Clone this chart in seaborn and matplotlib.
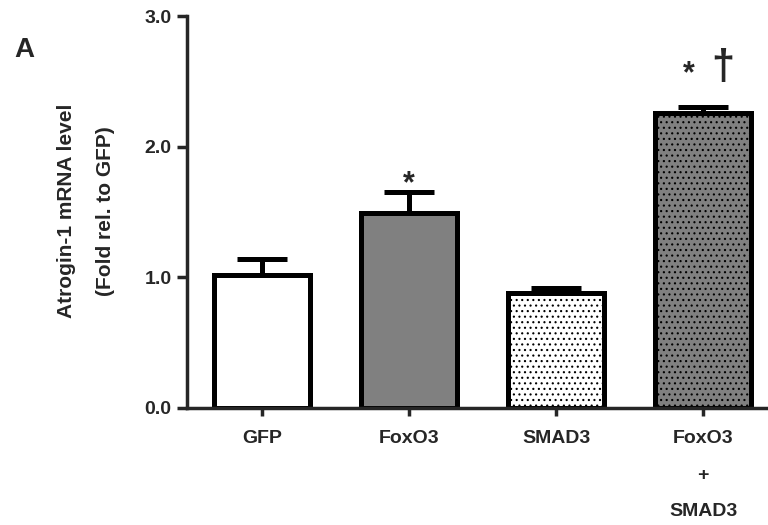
import matplotlib
matplotlib.use("Agg")
import matplotlib.pyplot as plt
import seaborn as sns
import pandas as pd

categories = ["GFP", "FoxO3", "SMAD3", "FoxO3\n+\nSMAD3"]
means = [1.02, 1.49, 0.88, 2.26]
sem = [0.12, 0.16, 0.04, 0.04]
fills = ["#ffffff", "#808080", "#ffffff", "#808080"]
hatches = ["", "", "...", "..."]
yticks = [0.0, 1.0, 2.0, 3.0]
# significance marks: (bar index, symbol)
sig_marks = [(1, "*"), (3, "*"), (3, "\u2020")]

sns.set_style("ticks")
plt.rcParams["font.family"] = ["Liberation Sans", "DejaVu Sans"]
plt.rcParams["font.weight"] = "bold"
plt.rcParams["hatch.linewidth"] = 0.8
plt.rcParams["hatch.color"] = "black"

df = pd.DataFrame({"group": categories, "value": means})

fig = plt.figure(figsize=(7.68, 5.25), dpi=100)
ax = fig.add_axes([0.2435, 0.2229, 0.7565, 0.7466])

sns.barplot(data=df, x="group", y="value", order=categories, width=0.65,
            palette=fills, hue="group", legend=False, edgecolor="black",
            linewidth=3.6, ax=ax, errorbar=None)

for patch, h in zip(ax.patches, hatches):
    patch.set_hatch(h)

ax.errorbar(range(len(categories)), means, yerr=[[0] * len(sem), sem],
            fmt="none", ecolor="black", elinewidth=3.6, capsize=18,
            capthick=3.6, zorder=1)

# style of the marks (offsets relative to the error-bar top)
mark_style = {
    (1, "*"): dict(dx=0.0, dy=0.0, size=22),
    (3, "*"): dict(dx=-0.10, dy=0.19, size=22),
    (3, "\u2020"): dict(dx=0.13, dy=0.22, size=30),
}
for i, sym in sig_marks:
    st = mark_style[(i, sym)]
    ax.text(i + st["dx"], means[i] + sem[i] + st["dy"], sym, ha="center",
            va="baseline", fontsize=st["size"], fontweight="bold")

ax.set_xlim(-0.51, 3.44)
ax.set_ylim(0, 3.0)
ax.set_yticks(yticks)
ax.set_yticklabels([f"{v:.1f}" for v in yticks])
ax.set_xlabel("")
ax.set_ylabel("Atrogin-1 mRNA level\n(Fold rel. to GFP)", fontsize=15,
              fontweight="bold", linespacing=2.3)
ax.yaxis.set_label_coords(-0.124, 0.503)
ax.tick_params(axis="y", labelsize=14, width=2.5, length=7, pad=4)
ax.tick_params(axis="x", labelsize=14, width=2.5, length=6, pad=10)
for lbl in ax.get_xticklabels() + ax.get_yticklabels():
    lbl.set_fontweight("bold")
    lbl.set_linespacing(2.5)
ax.spines["top"].set_visible(False)
ax.spines["right"].set_visible(False)
ax.spines["left"].set_linewidth(2.5)
ax.spines["bottom"].set_linewidth(2.5)

fig.text(0.018, 0.891, "A", fontsize=20, fontweight="bold")

fig.savefig("out.png", dpi=100)
